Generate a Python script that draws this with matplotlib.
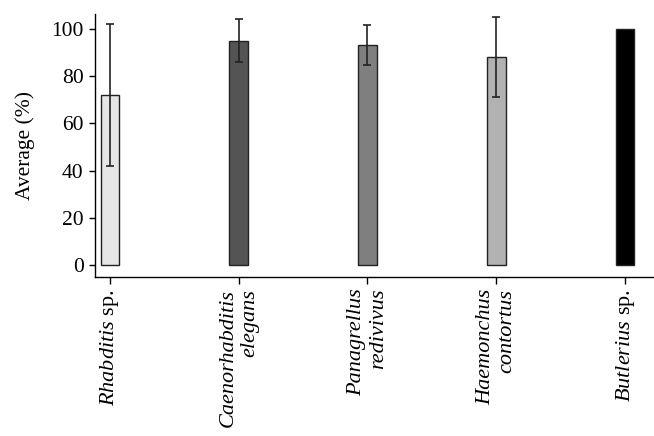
import numpy as np
import matplotlib
matplotlib.use("Agg")
import matplotlib.pyplot as plt

# nematode species and their averages
species = [r"$\mathit{Rhabditis}$ sp.",
           "Caenorhabditis\nelegans",
           "Panagrellus\nredivivus",
           "Haemonchus\ncontortus",
           r"$\mathit{Butlerius}$ sp."]
averages = [72, 95, 93, 88, 100]
errors = [30, 9, 8.5, 17, 0]
bar_colors = ["#e6e6e6", "#545454", "#7f7f7f", "#b2b2b2", "#000000"]

plt.rcParams["font.family"] = "Liberation Serif"
plt.rcParams["mathtext.fontset"] = "custom"
plt.rcParams["mathtext.it"] = "Liberation Serif:italic"
plt.rcParams["mathtext.rm"] = "Liberation Serif"

fig = plt.figure(figsize=(6.54, 4.36), dpi=100)
ax = fig.add_axes([0.145, 0.365, 0.855, 0.604])

x = np.arange(1, len(species) + 1)
ax.bar(x, averages, width=0.145, color=bar_colors, edgecolor="#222222",
       linewidth=1.0, zorder=2)
ax.errorbar(x[:-1], averages[:-1], yerr=errors[:-1], fmt="none",
            ecolor="#222222", elinewidth=1.2, capsize=3, capthick=1.2, zorder=3)

# faint dotted grid showing through the bars
ax.yaxis.grid(True, color="white", linestyle=":", linewidth=0.6, alpha=0.6, zorder=4)

ax.set_xlim(0.883, 5.225)
ax.set_ylim(-5, 106.5)
ax.set_yticks([0, 20, 40, 60, 80, 100])
ax.set_xticks(x)
labels = ax.set_xticklabels(species, rotation=90, fontsize=16, multialignment="right")
for lab in labels:
    if "\n" in lab.get_text():
        lab.set_fontstyle("italic")
ax.tick_params(axis="y", labelsize=15.5, length=4, width=1, direction="out", pad=4)
ax.tick_params(axis="x", length=5, width=1, direction="out")
ax.set_ylabel("Average (%)", fontsize=15.5, labelpad=12)
ax.spines["top"].set_visible(False)
ax.spines["right"].set_visible(False)
ax.spines["left"].set_linewidth(1.0)
ax.spines["bottom"].set_linewidth(1.0)

fig.savefig("out.png", dpi=100)
